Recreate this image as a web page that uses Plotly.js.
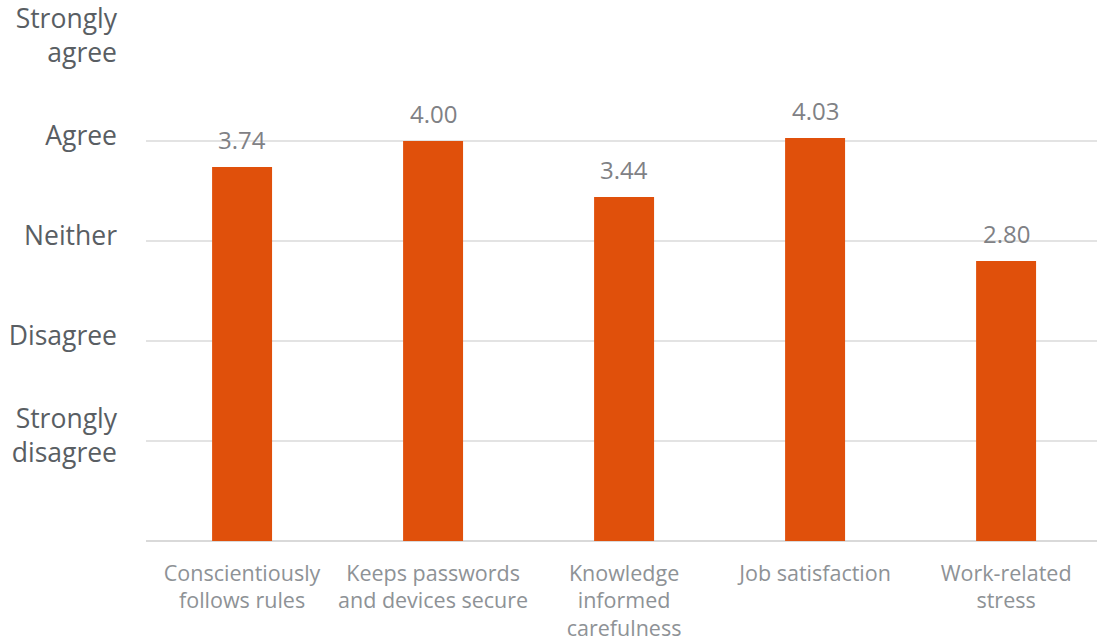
<!DOCTYPE html>
<html>
<head>
<meta charset="utf-8">
<script src="https://cdn.plot.ly/plotly-3.0.1.min.js"></script>
<style>html,body{margin:0;padding:0;background:#fff;}#chart{width:1097px;height:644px;}</style>
</head>
<body>
<div id="chart"></div>
<script>
const categories = ["Conscientiously<br>follows rules", "Keeps passwords<br>and devices secure", "Knowledge<br>informed<br>carefulness", "Job satisfaction", "Work-related<br>stress"];
const values = [3.74, 4.00, 3.44, 4.03, 2.80];
const tickValues = [1, 2, 3, 4, 5];
const tickLabels = ["Strongly<br>disagree", "Disagree", "Neither", "Agree", "Strongly<br>agree"];

const trace = {
  type: "bar",
  x: [0, 1, 2, 3, 4],
  y: values,
  width: 0.314,
  marker: {color: "#E0500B"},
  hoverinfo: "skip"
};

const annotations = values.map((v, i) => ({
  x: i, y: v, xref: "x", yref: "y",
  text: v.toFixed(2), showarrow: false,
  yanchor: "bottom", yshift: 9,
  font: {family: "Open Sans", size: 24, color: "#7f8185"}
}));

const layout = {
  width: 1097, height: 644,
  margin: {l: 146, r: 0, t: 41, b: 103},
  paper_bgcolor: "#fff", plot_bgcolor: "#fff",
  showlegend: false,
  font: {family: "Open Sans"},
  xaxis: {
    range: [-0.503, 4.476],
    tickvals: [0, 1, 2, 3, 4], ticktext: categories,
    showgrid: false, showline: false, zeroline: false,
    tickfont: {family: "Open Sans", size: 21.5, color: "#8e9296"},
    ticks: "", ticklabelstandoff: 17, ticklabeloverflow: "allow",
    fixedrange: true
  },
  yaxis: {
    range: [0, 5],
    tickvals: tickValues, ticktext: tickLabels,
    showgrid: true, gridcolor: "#e3e3e3", gridwidth: 1.5,
    zeroline: true, zerolinecolor: "#d9d9d9", zerolinewidth: 2,
    showline: false, ticks: "",
    tickfont: {family: "Open Sans", size: 26.5, color: "#595e63"},
    ticklabelstandoff: 28, ticklabelshift: -5, ticklabeloverflow: "allow",
    fixedrange: true
  },
  annotations: annotations
};

Plotly.newPlot("chart", [trace], layout, {displayModeBar: false, staticPlot: true});
</script>
</body>
</html>
